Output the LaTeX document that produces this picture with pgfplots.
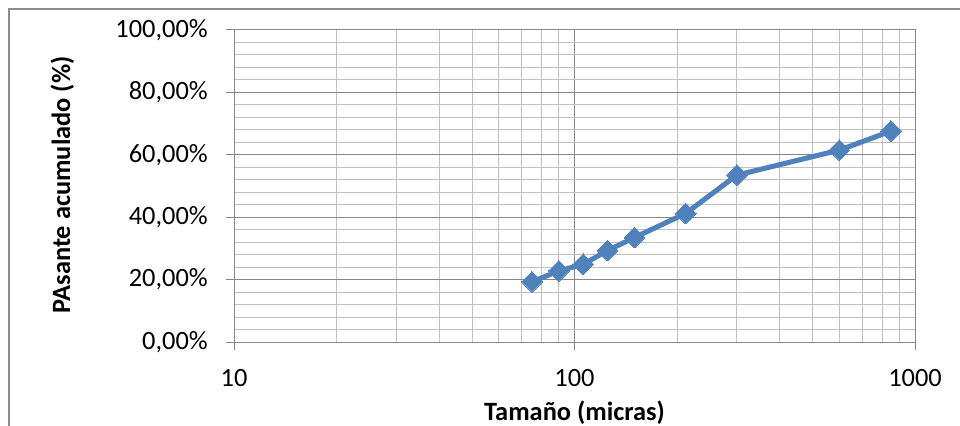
\documentclass[border=0pt]{standalone}
\usepackage{pgfplots}
\pgfplotsset{compat=1.18}
\usepackage{fontspec}
\setmainfont{Carlito}

\definecolor{serie}{HTML}{4F81BD}
\definecolor{gmajor}{HTML}{868686}
\definecolor{gminor}{HTML}{C0C0C0}
\definecolor{marco}{HTML}{8C8C8C}

\begin{document}
\begin{tikzpicture}
\useasboundingbox (0,0) rectangle (720pt,318.75pt);
% outer chart frame
\draw[marco, line width=0.9pt] (6.75pt,-5pt) -- (6.75pt,312pt) -- (730pt,312pt);

\begin{axis}[
  at={(175.5pt,62.25pt)}, anchor=south west,
  width=510.75pt, height=234pt, scale only axis,
  xmode=log, xmin=10, xmax=1000, ymin=0, ymax=100,
  xtick={10,100,1000}, xticklabels={10,100,1000},
  ytick={0,20,40,60,80,100},
  yticklabels={{0,00\%},{20,00\%},{40,00\%},{60,00\%},{80,00\%},{100,00\%}},
  minor ytick={4,8,12,16,24,28,32,36,44,48,52,56,64,68,72,76,84,88,92,96},
  grid=both,
  major grid style={gmajor, line width=0.75pt},
  minor grid style={gminor, line width=0.75pt},
  axis line style={gmajor, line width=0.75pt},
  tick style={gmajor, line width=0.75pt},
  tick align=outside, major tick length=6pt, minor tick length=0pt,
  xtick pos=bottom, ytick pos=left,
  tick label style={font=\fontsize{19.8}{24}\selectfont, text=black},
  xticklabel style={inner sep=0pt, anchor=north, yshift=-14pt},
  yticklabel style={inner sep=0pt, anchor=east, xshift=-13.5pt},
  clip=false,
]
\addplot[serie, line width=3.8pt, mark=square*, mark size=5.5pt,
  mark options={rotate=45, fill=serie, draw=none, line width=0pt}]
  coordinates {
  (75,19.3) (90,22.8) (106,24.9) (125,29.3) (150,33.5)
  (212,41.2) (300,53.5) (600,61.5) (850,67.6)
  };
\end{axis}

\node[anchor=base, font=\fontsize{19.8}{24}\selectfont\bfseries] at (430.9pt,3.75pt) {Tamaño (micras)};
\node[anchor=base, rotate=90, font=\fontsize{19.8}{24}\selectfont\bfseries] at (52.5pt,180pt) {PAsante acumulado (\%)};
\end{tikzpicture}
\end{document}
